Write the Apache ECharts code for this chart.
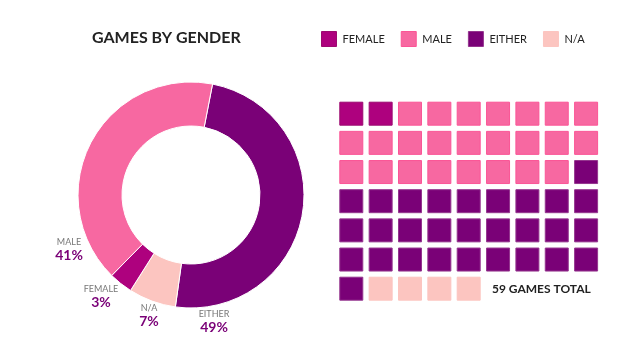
<!DOCTYPE html>
<html>
<head>
<meta charset="utf-8">
<script src="https://cdn.jsdelivr.net/npm/echarts@6/dist/echarts.min.js"></script>
<style>
html,body{margin:0;padding:0;background:#fff;}
#chart{width:635px;height:360px;}
</style>
</head>
<body>
<div id="chart"></div>
<script>
// ---- data ----
const categories = ['FEMALE', 'MALE', 'EITHER', 'N/A'];
const gameCounts = [2, 24, 29, 4];
const pieOrder = ['EITHER', 'N/A', 'FEMALE', 'MALE'];
const titleText = 'GAMES BY GENDER';
const totalSuffix = ' GAMES TOTAL';

// ---- styles ----
const palette = {FEMALE: '#ae017e', MALE: '#f768a1', EITHER: '#7a0177', 'N/A': '#fcc5c0'};
const cellBorder = {FEMALE: '#9c0a70', MALE: '#fb5596', EITHER: '#94358e', 'N/A': '#fcc5c0'};
const labelAnchors = {MALE: [69, 250], FEMALE: [101, 297], 'N/A': [149, 316], EITHER: [214, 322]};
const waffleCols = 9;
const waffleRows = 7;

const total = gameCounts.reduce((a, b) => a + b, 0);
const countOf = {};
categories.forEach((c, i) => countOf[c] = gameCounts[i]);

const pieData = pieOrder.map(name => ({
  name: name,
  value: countOf[name],
  itemStyle: {color: palette[name]}
}));

// waffle cells, filled row by row
const cellSeries = [];
let k = 0;
categories.forEach((cat, ci) => {
  const pts = [];
  for (let j = 0; j < gameCounts[ci]; j++, k++) {
    pts.push([k % waffleCols, Math.floor(k / waffleCols)]);
  }
  cellSeries.push({
    type: 'scatter',
    name: cat,
    symbol: 'rect',
    symbolSize: 23,
    data: pts,
    itemStyle: {color: palette[cat], borderColor: cellBorder[cat], borderWidth: 1, opacity: 1},
    emphasis: {disabled: true},
    silent: true
  });
});

const chart = echarts.init(document.getElementById('chart'), null, {renderer: 'canvas'});
chart.setOption({
  animation: false,
  textStyle: {fontFamily: 'Lato'},
  title: [
    {text: titleText, left: 92, top: 30, padding: 0,
     textStyle: {fontFamily: 'Lato', fontWeight: 'bold', fontSize: 16, color: '#222'}},
    {text: total + totalSuffix, left: 492, top: 283, padding: 0,
     textStyle: {fontFamily: 'Lato', fontWeight: 'bold', fontSize: 12, color: '#222'}}
  ],
  legend: {
    data: categories.map(c => ({name: c, itemStyle: {color: palette[c], borderColor: cellBorder[c], borderWidth: 1}})),
    left: 321, top: 31,
    icon: 'rect',
    itemWidth: 15, itemHeight: 15,
    itemGap: 16,
    padding: 0,
    selectedMode: false,
    textStyle: {fontFamily: 'Lato', fontSize: 11, color: '#222', padding: [0, 0, 0, 1]}
  },
  grid: {left: 351.3, top: 113.7, width: 234.8, height: 175},
  xAxis: {type: 'value', min: 0, max: waffleCols - 1, show: false},
  yAxis: {type: 'value', min: 0, max: waffleRows - 1, inverse: true, show: false},
  series: [
    {
      type: 'pie',
      center: [191, 195],
      radius: [69, 113],
      startAngle: 79,
      clockwise: true,
      data: pieData,
      itemStyle: {borderColor: '#fff', borderWidth: 1},
      emphasis: {disabled: true},
      silent: true,
      labelLine: {show: false},
      label: {
        show: true,
        position: 'outside',
        align: 'center',
        formatter: p => '{n|' + p.name + '}\n{p|' + Math.round(p.value / total * 100) + '%}',
        rich: {
          n: {fontFamily: 'Lato', fontSize: 9, color: '#777', lineHeight: 11, align: 'center'},
          p: {fontFamily: 'Lato', fontSize: 14, fontWeight: 'bold', color: '#7a0177', lineHeight: 15, align: 'center'}
        }
      },
      labelLayout: function (params) {
        const name = pieData[params.dataIndex].name;
        const a = labelAnchors[name];
        return {x: a[0], y: a[1], align: 'center', verticalAlign: 'middle'};
      }
    }
  ].concat(cellSeries)
});
</script>
</body>
</html>
